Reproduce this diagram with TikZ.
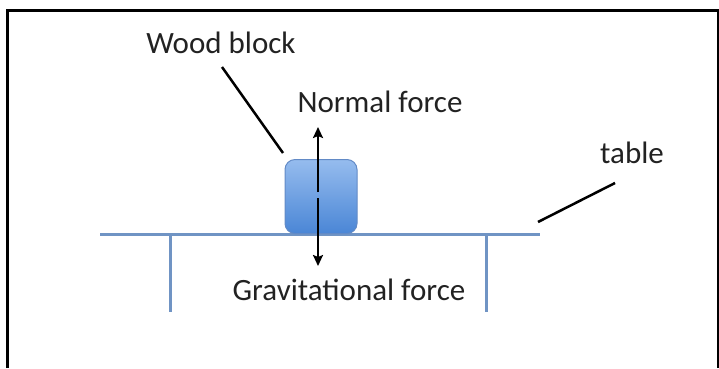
\documentclass[tikz,border=0pt]{standalone}
\usepackage{fontspec}
\setmainfont{Carlito}
\usetikzlibrary{arrows.meta, positioning}
\definecolor{tableblue}{RGB}{112,148,196}
\definecolor{blocktop}{RGB}{150,188,238}
\definecolor{blockbot}{RGB}{74,134,214}
\definecolor{blockedge}{RGB}{98,138,198}
\definecolor{inkgray}{RGB}{34,34,34}

\begin{document}
\begin{tikzpicture}[x=1pt,y=-1pt,
    caption/.style={font=\fontsize{31}{36}\selectfont, inner sep=0pt, text=inkgray, anchor=base},
    leader/.style={black, line width=2.5pt},
    force/.style={-{Stealth[length=11pt,width=10pt,inset=2pt]}, black, line width=2.2pt},
    tableline/.style={tableblue, line width=3pt}]
    \useasboundingbox (0,0) rectangle (719,368);
    \draw[black, line width=3pt] (7.5,368) -- (7.5,10) -- (718,10) -- (718,368);

    % table
    \coordinate (tl) at (100,234);
    \coordinate (tr) at (540,234);
    \coordinate (legl) at (170,234);
    \coordinate (legr) at (486,234);
    \draw[tableline] (tl) -- (tr);
    \draw[tableline] (legl) -- ++(0,78);
    \draw[tableline] (legr) -- ++(0,78);

    % block
    \node[draw=blockedge, line width=1pt, top color=blocktop, bottom color=blockbot,
          rounded corners=10pt, minimum width=72pt, minimum height=74pt,
          anchor=south] (block) at (321,234) {};

    % labels
    \node[caption] (wood) at (221,53) {Wood block};
    \node[caption] (normal) at (380,112) {Normal force};
    \node[caption] (gravity) at (349,300) {Gravitational force};
    \node[caption] (tablelbl) at (632,163) {table};

    % forces
    \coordinate (nbase) at (318,192);
    \coordinate (ntip) at (318,127);
    \coordinate (gbase) at (318,198);
    \coordinate (gtip) at (318,266);
    \draw[force] (nbase) -- (ntip);
    \draw[force] (gbase) -- (gtip);

    % leaders
    \coordinate (woodend) at (283,153);
    \coordinate (woodstart) at (222,67);
    \coordinate (tblstart) at (615,183);
    \coordinate (tblend) at (538,222);
    \draw[leader] (woodstart) -- (woodend);
    \draw[leader] (tblstart) -- (tblend);
\end{tikzpicture}
\end{document}
